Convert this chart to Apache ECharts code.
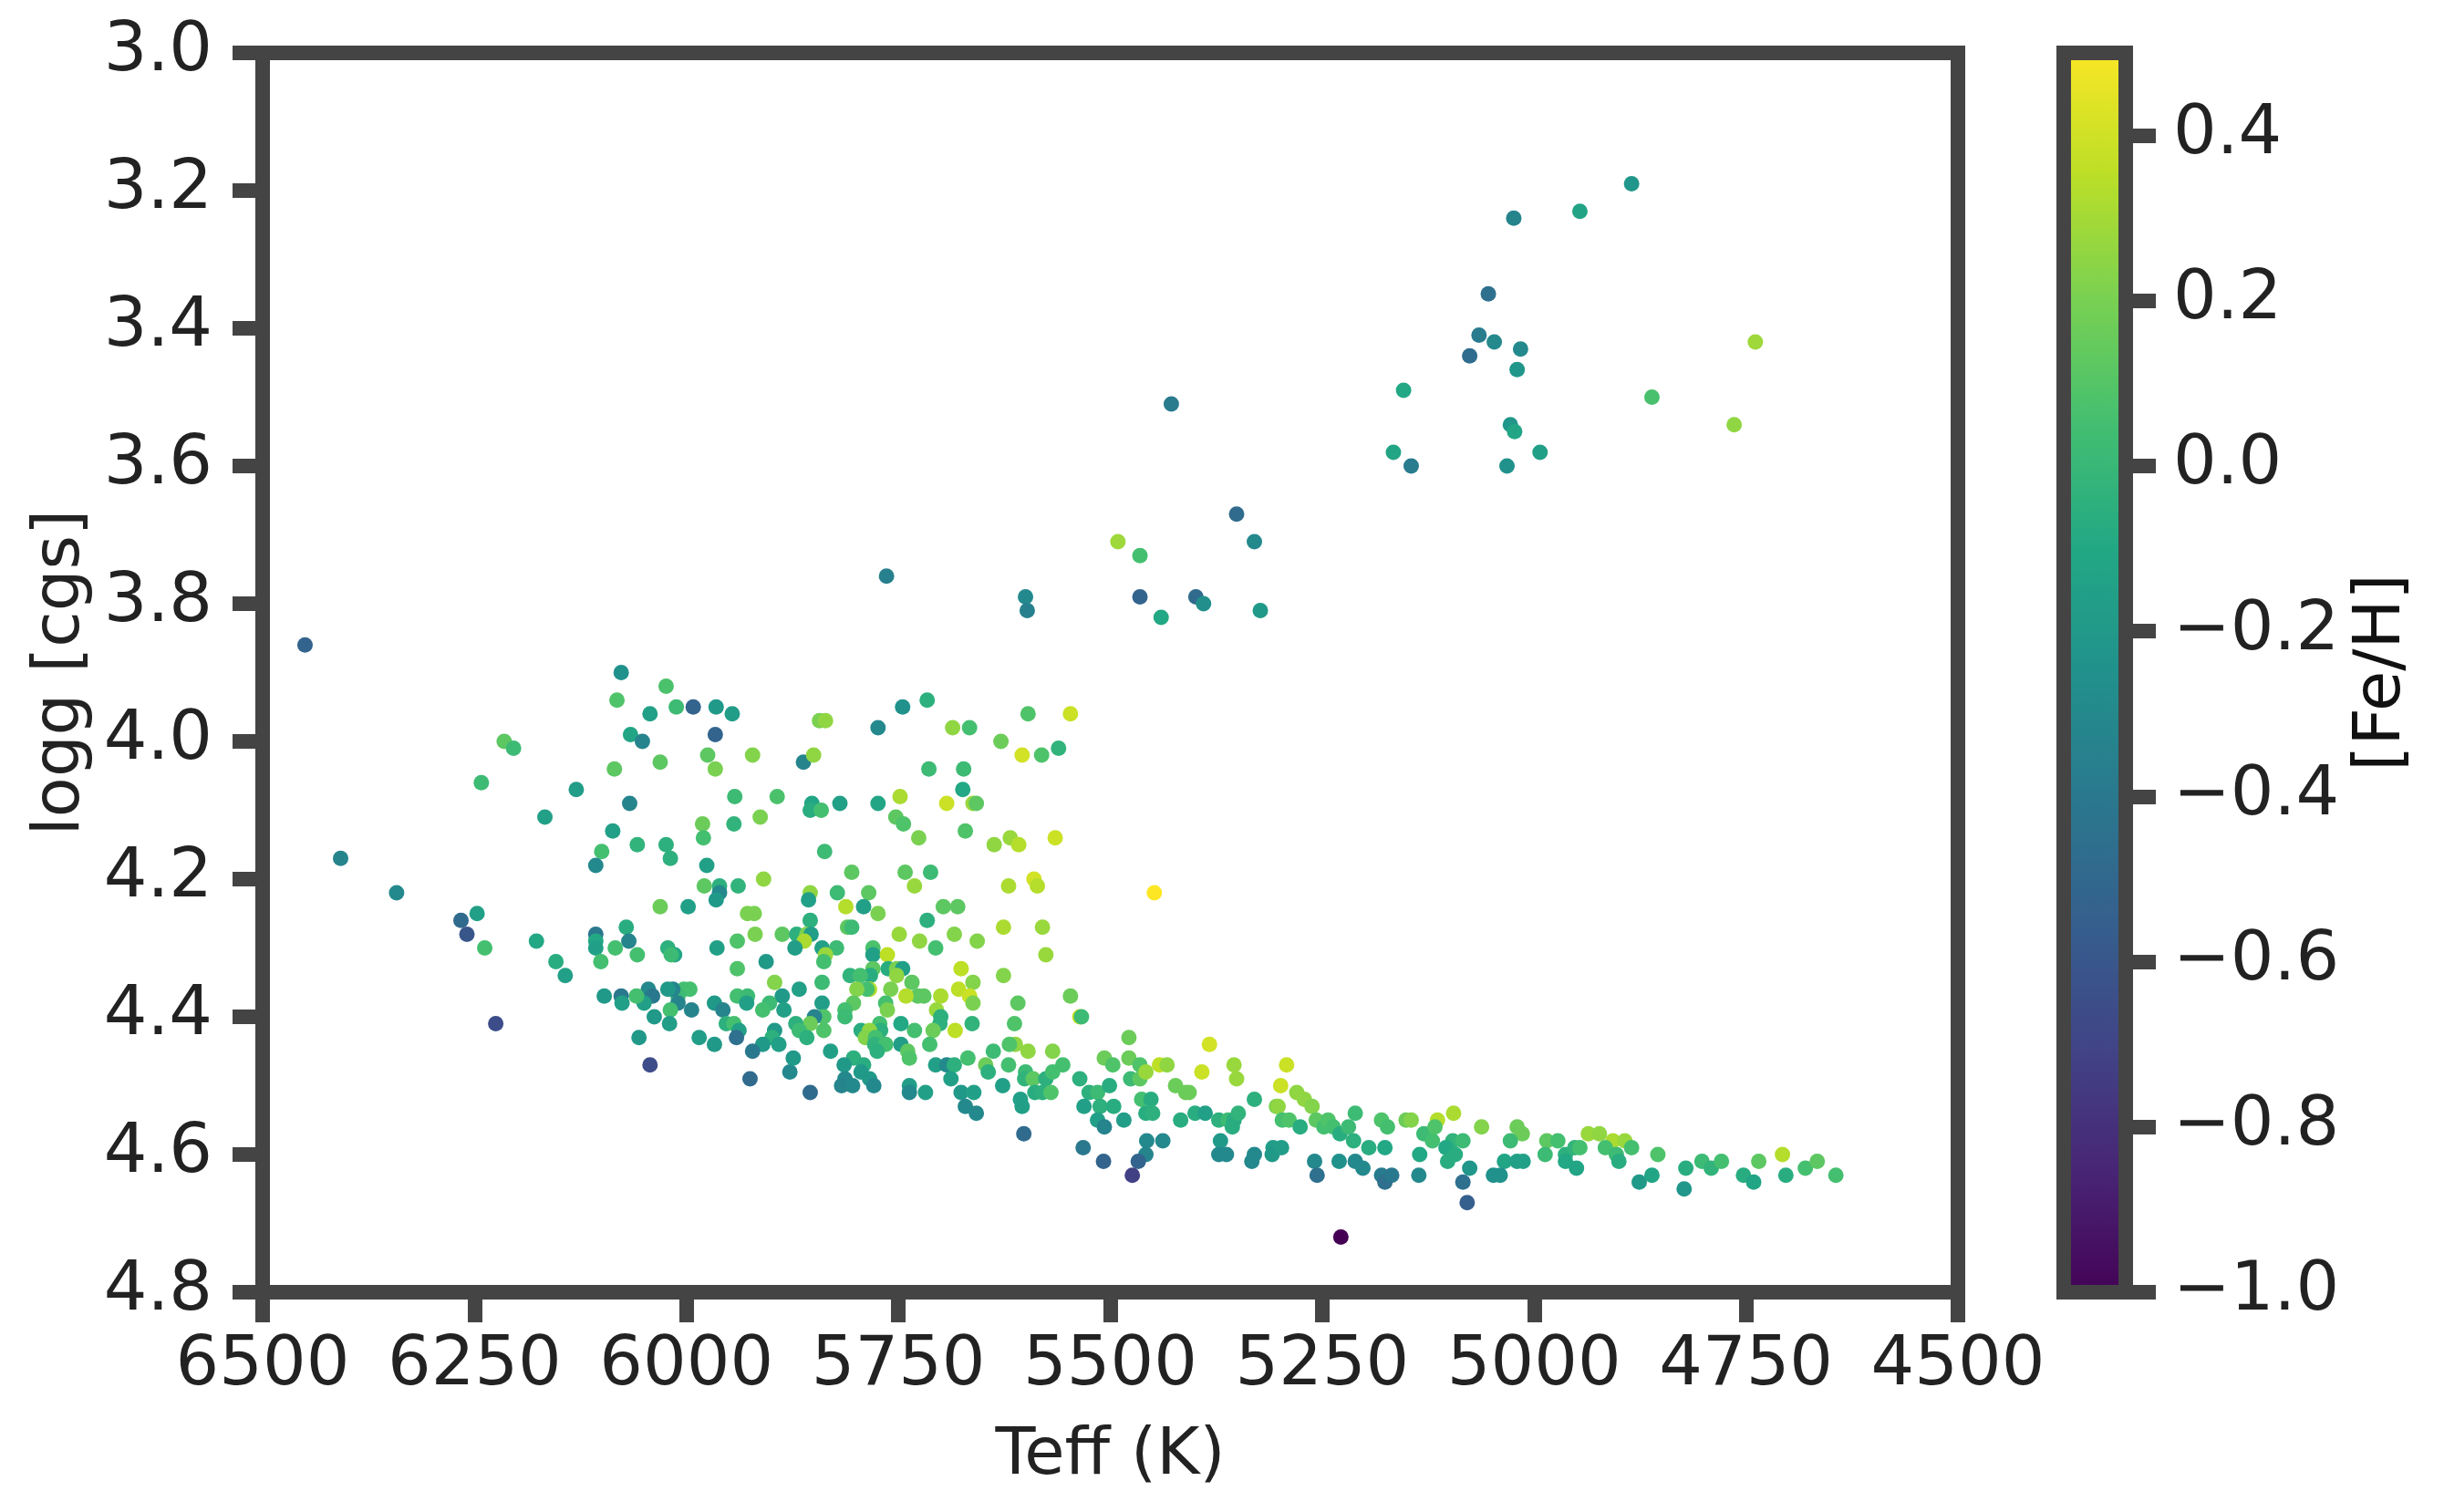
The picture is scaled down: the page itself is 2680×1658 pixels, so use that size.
<!DOCTYPE html>
<html>
<head>
<meta charset="utf-8">
<script src="https://cdn.jsdelivr.net/npm/echarts@6/dist/echarts.min.js"></script>
<style>
html, body { margin: 0; background: #fff; }
#chart { width: 2680px; height: 1658px; }
</style>
</head>
<body>
<div id="chart"></div>
<script>
// [Teff (K), logg (cgs), [Fe/H]], grouped by region
var giants = [
  [4885,3.19,-0.22],[4946,3.23,-0.13],[5024,3.24,-0.33],[5054,3.35,-0.45],[5065,3.41,-0.38],
  [5047,3.42,-0.30],[5016,3.43,-0.30],[5076,3.44,-0.47],[5020,3.46,-0.22],[4739,3.42,0.28],
  [5154,3.49,-0.10],[4861,3.50,0.06],[4764,3.54,0.25],[5028,3.54,-0.22],[5023,3.55,-0.12],
  [5166,3.58,-0.12],[4993,3.58,-0.16],[5145,3.60,-0.38],[5032,3.60,-0.25],[5428,3.51,-0.38],
  [5351,3.67,-0.48],[5330,3.71,-0.30],[5491,3.71,0.28],[5465,3.73,0.05],[5465,3.79,-0.52],
  [5399,3.79,-0.48],[5390,3.80,-0.26],[5440,3.82,-0.10],[5323,3.81,-0.20],[5764,3.76,-0.35],
  [5600,3.79,-0.30],[5598,3.81,-0.35]
];
var hotEdge = [
  [6450,3.86,-0.52],[6215,4.00,0.12],[6204,4.01,0.02],[6242,4.06,0.02],[6130,4.07,-0.17],
  [6167,4.11,-0.15],[6408,4.17,-0.33],[6342,4.22,-0.30],[6266,4.26,-0.48],[6247,4.25,-0.15],
  [6259,4.28,-0.60],[6238,4.30,0.05],[6177,4.29,-0.10],[6154,4.32,-0.07],[6143,4.34,-0.15],
  [6225,4.41,-0.65]
];
var upperBand = [
  [6077,3.90,-0.25],[6024,3.92,0.07],[6082,3.94,0.08],[6043,3.96,-0.15],[6012,3.95,0.02],
  [5992,3.95,-0.52],[5965,3.95,-0.20],[5946,3.96,-0.17],[6066,3.99,-0.12],[6052,4.00,-0.33],
  [5966,3.99,-0.52],[5975,4.02,0.12],[5966,4.04,0.20],[5922,4.02,0.22],[6031,4.03,0.12],
  [6085,4.04,0.12],[5843,3.97,0.20],[5836,3.97,0.25],[5862,4.03,-0.33],[5850,4.02,0.25],
  [5774,3.98,-0.30],[5745,3.95,-0.25],[5716,3.94,-0.05],[5686,3.98,0.25],[5666,3.98,0.05],
  [5629,4.00,0.16],[5714,4.04,0.02],[5673,4.04,0.02],[5674,4.07,-0.10],[5693,4.09,0.38],
  [5662,4.09,0.27],[5658,4.09,0.12],[5748,4.08,0.31],[5753,4.11,0.12],[5744,4.12,0.08],
  [5726,4.14,0.20],[5671,4.13,0.08],[5637,4.15,0.25],[5852,4.09,-0.12],[5854,4.10,-0.07],
  [5841,4.10,0.05],[5819,4.09,-0.15],[5774,4.09,-0.12],[5943,4.08,0.02],[5893,4.08,0.07],
  [5913,4.11,0.20],[5944,4.12,-0.03],[5981,4.12,0.16],[5980,4.14,0.05],[6067,4.09,-0.33],
  [6087,4.13,-0.15],[6100,4.16,0.05],[6107,4.18,-0.30],[6058,4.15,-0.03],[6024,4.15,-0.05],
  [6019,4.17,-0.05],[5976,4.18,-0.15],[5979,4.21,0.12],[5961,4.21,-0.05],[5961,4.22,-0.30],
  [5965,4.23,-0.20],[5939,4.21,-0.03],[5909,4.20,0.25],[6031,4.24,0.16],[5998,4.24,-0.15],
  [5837,4.16,0.02],[5805,4.19,0.12],[5742,4.19,0.12],[5712,4.19,0.02],[5731,4.21,0.27],
  [5854,4.22,0.25],[5856,4.23,-0.15],[5822,4.22,0.02],[5785,4.22,0.12],[5812,4.24,0.33],
  [5791,4.24,-0.15],[5774,4.25,0.20],[5697,4.24,0.12],[5680,4.24,0.12],[5716,4.26,-0.05],
  [5854,4.26,-0.05],[5928,4.25,0.20],[5920,4.25,0.20],[5597,3.96,0.08],[5547,3.96,0.38],
  [5604,4.02,0.40],[5581,4.02,0.08],[5561,4.01,-0.03],[5618,4.14,0.27],[5608,4.15,0.33],
  [5565,4.14,0.38],[5620,4.21,0.31],[5590,4.20,0.40],[5586,4.21,0.33],[5448,4.22,0.50]
];
var midBand = [
  [6107,4.28,-0.40],[6107,4.29,-0.10],[6107,4.30,-0.15],[6071,4.27,-0.07],[6068,4.29,-0.33],
  [6084,4.30,0.05],[6058,4.31,0.05],[6101,4.32,0.05],[6022,4.30,-0.05],[6014,4.31,-0.12],
  [6018,4.31,0.02],[5964,4.30,-0.15],[5940,4.29,0.08],[5919,4.28,0.20],[5887,4.28,0.12],
  [5870,4.28,-0.05],[5858,4.28,0.20],[5853,4.28,-0.17],[5861,4.29,0.31],[5872,4.30,-0.17],
  [5906,4.32,-0.20],[5940,4.33,0.08],[5840,4.30,-0.15],[5823,4.30,0.02],[5836,4.31,0.27],
  [5838,4.32,0.05],[5810,4.27,0.12],[5805,4.27,0.02],[5749,4.28,0.27],[5725,4.29,0.25],
  [5706,4.30,0.05],[5684,4.28,0.22],[5657,4.29,0.22],[5626,4.27,0.31],[5626,4.34,0.22],
  [5780,4.30,0.07],[5780,4.31,-0.15],[5763,4.31,0.35],[5780,4.33,0.12],[5783,4.34,-0.07],
  [5807,4.34,-0.03],[5795,4.34,0.05],[5762,4.33,-0.07],[5752,4.33,0.20],[5745,4.33,-0.15],
  [5752,4.34,0.25],[5734,4.35,0.12],[5676,4.33,0.35],[5662,4.35,0.22],[5679,4.36,0.35],
  [5666,4.37,0.38],[5662,4.38,0.20],[5700,4.37,0.31],[5705,4.39,0.27],[5700,4.40,-0.05],
  [5701,4.41,-0.05],[5709,4.42,0.16],[5683,4.42,0.35],[5663,4.41,-0.03],[5713,4.44,0.05],
  [5731,4.42,0.05],[5747,4.41,-0.10],[5727,4.37,0.12],[5720,4.37,0.12],[5741,4.37,0.33],
  [5759,4.36,0.20],[5765,4.38,0.05],[5763,4.39,0.20],[5784,4.36,0.33],[5787,4.36,0.05],
  [5799,4.36,0.22],[5803,4.38,0.12],[5813,4.39,0.05],[5813,4.40,0.02],[5772,4.41,0.05],
  [5771,4.42,-0.05],[5794,4.42,-0.07],[5784,4.42,0.25],[5789,4.43,0.22],[5777,4.43,0.05],
  [5778,4.44,-0.03],[5765,4.44,0.05],[5775,4.45,-0.05],[5747,4.44,-0.17],[5739,4.45,0.12],
  [5737,4.46,0.08],[5840,4.38,-0.17],[5840,4.35,0.02],[5838,4.40,0.08],[5849,4.40,-0.33],
  [5838,4.42,0.08],[5854,4.41,0.16],[5871,4.41,-0.05],[5867,4.42,0.02],[5858,4.43,-0.05],
  [5867,4.36,-0.15],[5887,4.37,-0.20],[5885,4.39,-0.15],[5896,4.35,0.22],[5902,4.38,0.02],
  [5910,4.39,0.05],[5896,4.42,-0.20],[5899,4.43,-0.05],[5891,4.44,-0.15],[5910,4.44,-0.20],
  [5922,4.45,-0.40],[5940,4.37,0.05],[5928,4.37,0.02],[5929,4.38,-0.15],[5967,4.38,-0.20],
  [5957,4.39,-0.33],[5953,4.41,-0.05],[5944,4.41,0.05],[5938,4.42,-0.15],[5941,4.43,-0.45],
  [5967,4.44,-0.20],[5985,4.43,-0.17],[5994,4.39,-0.33],[6003,4.36,0.05],[5996,4.36,0.05],
  [6010,4.37,0.02],[6010,4.38,-0.33],[6016,4.36,-0.33],[6022,4.36,-0.20],[6019,4.39,0.05],
  [6020,4.41,-0.17],[6038,4.40,-0.20],[6045,4.36,-0.30],[6040,4.37,-0.40],[6050,4.38,-0.15],
  [6059,4.37,0.05],[6077,4.37,-0.40],[6076,4.38,-0.15],[6097,4.37,-0.20],[6056,4.43,-0.20],
  [6043,4.47,-0.65],[5925,4.49,-0.48],[5878,4.48,-0.30],[5874,4.46,-0.20],[5854,4.51,-0.48],
  [5830,4.45,-0.15],[5803,4.46,-0.05],[5814,4.47,-0.20],[5791,4.47,-0.07],[5794,4.48,-0.20],
  [5813,4.49,-0.30],[5817,4.50,-0.33],[5804,4.50,-0.30],[5784,4.49,-0.20],[5779,4.50,-0.30],
  [5737,4.50,-0.17],[5737,4.51,-0.30],[5718,4.51,-0.15],[5706,4.47,-0.15],[5693,4.47,-0.30],
  [5684,4.47,-0.05],[5688,4.49,-0.15],[5668,4.46,0.05],[5676,4.51,-0.20],[5661,4.51,-0.15],
  [5671,4.53,-0.30],[5658,4.54,-0.30],[5647,4.47,0.16],[5644,4.48,-0.05],[5638,4.45,0.02],
  [5620,4.47,0.05],[5627,4.50,-0.15],[5612,4.44,0.25],[5619,4.44,0.08],[5613,4.41,0.08],
  [5609,4.38,0.12]
];
var lowerBand = [
  [5580,4.27,0.27],[5576,4.31,0.27],[5547,4.37,0.16],[5536,4.40,0.38],[5534,4.40,0.02],
  [5597,4.45,0.25],[5568,4.45,0.22],[5600,4.48,0.02],[5601,4.49,-0.03],[5591,4.49,0.12],
  [5576,4.49,-0.05],[5568,4.48,0.05],[5556,4.47,0.05],[5589,4.51,-0.07],[5580,4.51,-0.05],
  [5570,4.51,0.08],[5606,4.52,-0.15],[5604,4.53,-0.15],[5602,4.57,-0.48],[5536,4.49,-0.05],
  [5525,4.51,-0.05],[5515,4.51,0.02],[5501,4.50,-0.07],[5512,4.53,-0.05],[5496,4.53,-0.07],
  [5531,4.53,-0.15],[5515,4.55,-0.15],[5507,4.56,-0.33],[5484,4.55,-0.17],[5507,4.46,0.16],
  [5497,4.47,0.08],[5478,4.43,0.16],[5478,4.46,0.16],[5476,4.49,0.02],[5465,4.47,0.08],
  [5465,4.49,0.12],[5458,4.48,0.27],[5463,4.52,0.05],[5452,4.52,-0.07],[5458,4.54,-0.07],
  [5450,4.54,-0.05],[5457,4.58,-0.30],[5458,4.60,-0.33],[5467,4.61,-0.52],[5474,4.63,-0.72],
  [5438,4.58,-0.30],[5508,4.61,-0.52],[5532,4.59,-0.40],[5442,4.47,0.35],[5433,4.47,0.25],
  [5423,4.50,0.16],[5411,4.51,0.16],[5407,4.51,0.16],[5417,4.55,-0.07],[5400,4.54,-0.07],
  [5388,4.54,-0.15],[5383,4.44,0.40],[5392,4.48,0.38],[5354,4.47,0.27],[5351,4.49,0.27],
  [5372,4.55,-0.05],[5361,4.55,0.02],[5356,4.56,-0.07],[5354,4.55,-0.07],[5349,4.54,-0.03],
  [5370,4.58,-0.20],[5372,4.60,-0.30],[5363,4.60,-0.30],[5330,4.52,-0.05],[5330,4.60,-0.30],
  [5333,4.61,-0.30],[5308,4.59,-0.17],[5309,4.60,-0.20],[5298,4.59,-0.17],[5304,4.53,0.20],
  [5302,4.53,0.25],[5299,4.50,0.38],[5292,4.47,0.38],[5297,4.55,0.05],[5289,4.55,0.08],
  [5276,4.56,-0.07],[5280,4.51,0.25],[5271,4.52,0.25],[5262,4.53,0.22],[5257,4.55,0.12],
  [5248,4.56,0.05],[5243,4.55,0.08],[5237,4.56,0.05],[5229,4.57,-0.07],[5219,4.56,0.02],
  [5213,4.58,-0.05],[5211,4.54,0.02],[5259,4.61,-0.30],[5256,4.63,-0.45],[5230,4.61,-0.25],
  [5211,4.61,-0.30],[5202,4.62,-0.30],[5228,4.72,-1.00],[5195,4.59,-0.07],[5180,4.55,0.08],
  [5173,4.56,0.05],[5176,4.59,-0.10],[5180,4.63,-0.38],[5176,4.64,-0.45],[5168,4.63,-0.40],
  [5151,4.55,0.16],[5145,4.55,0.22],[5135,4.60,-0.10],[5136,4.63,-0.30],[5130,4.57,0.02],
  [5120,4.58,0.05],[5114,4.55,0.33]
];
var coolTail = [
  [5117,4.56,0.08],[5095,4.54,0.31],[5062,4.56,0.22],[5096,4.58,-0.03],[5084,4.58,0.02],
  [5104,4.59,-0.10],[5093,4.60,-0.07],[5102,4.61,-0.07],[5076,4.62,-0.22],[5084,4.64,-0.45],
  [5079,4.67,-0.55],[5020,4.56,0.16],[5014,4.57,0.16],[5028,4.58,0.02],[5035,4.61,-0.12],
  [5020,4.61,-0.15],[5013,4.61,-0.15],[5048,4.63,-0.25],[5040,4.63,-0.25],[4985,4.58,0.12],
  [4972,4.58,0.05],[4987,4.60,0.02],[4963,4.60,-0.05],[4952,4.59,-0.03],[4946,4.59,0.05],
  [4963,4.61,-0.10],[4950,4.62,-0.12],[4936,4.57,0.27],[4923,4.57,0.25],[4907,4.58,0.31],
  [4893,4.58,0.27],[4916,4.59,0.05],[4885,4.59,0.05],[4903,4.60,0.02],[4900,4.61,-0.07],
  [4854,4.60,0.08],[4876,4.64,-0.20],[4861,4.63,-0.12],[4821,4.62,-0.07],[4823,4.65,-0.22],
  [4802,4.61,0.02],[4791,4.62,-0.03],[4779,4.61,0.05],[4753,4.63,-0.07],[4741,4.64,-0.12],
  [4735,4.61,0.12],[4707,4.60,0.33],[4703,4.63,-0.07],[4680,4.62,0.05],[4666,4.61,0.12],
  [4644,4.63,0.05]
];

var fehTicks = [-1.0, -0.8, -0.6, -0.4, -0.2, 0.0, 0.2, 0.4];
var viridis = ['#440154', '#482475', '#414487', '#355f8d', '#2a788e', '#21918c',
               '#22a884', '#44bf70', '#7ad151', '#bddf26', '#fde725'];

var stars = giants.concat(hotEdge, upperBand, midBand, lowerBand, coolTail);

var spine = '#444444';
var ink = '#222222';
var font = 'DejaVu Sans';

var chart = echarts.init(document.getElementById('chart'));

var colorStops = viridis.map(function (c, i) {
  return { offset: 1 - i / (viridis.length - 1), color: c };
});

function fmtFeh(v) {
  var s = Math.abs(v).toFixed(1);
  return (v < -1e-9 ? '\u2212' : '') + s;
}

var tickStyle = { show: true, inside: false, length: 33, lineStyle: { color: spine, width: 16 } };

chart.setOption({
  animation: false,
  backgroundColor: '#ffffff',
  textStyle: { fontFamily: font },
  grid: [
    { left: 288, top: 58, width: 1859, height: 1359, show: true,
      borderWidth: 16, borderColor: spine, backgroundColor: 'transparent' },
    { left: 2263, top: 58, width: 68, height: 1359, show: true,
      borderWidth: 16, borderColor: spine,
      backgroundColor: { type: 'linear', x: 0, y: 0, x2: 0, y2: 1, colorStops: colorStops } }
  ],
  xAxis: [
    { type: 'value', gridIndex: 0, min: 4500, max: 6500, interval: 250, inverse: true,
      axisLine: { show: false, onZero: false }, splitLine: { show: false },
      axisTick: tickStyle,
      axisLabel: { margin: 44, fontSize: 75, color: ink, fontFamily: font,
        formatter: function (v) { return String(v); } },
      name: 'Teff (K)', nameLocation: 'middle', nameGap: 144,
      nameTextStyle: { fontSize: 72, color: ink, fontFamily: font } },
    { type: 'value', gridIndex: 1, min: 0, max: 1, show: false,
      axisLine: { onZero: false } }
  ],
  yAxis: [
    { type: 'value', gridIndex: 0, min: 3.0, max: 4.8, interval: 0.2, inverse: true,
      axisLine: { show: false, onZero: false }, splitLine: { show: false },
      axisTick: tickStyle,
      axisLabel: { margin: 55, fontSize: 75, color: ink, fontFamily: font,
        formatter: function (v) { return v.toFixed(1); } },
      name: 'logg [cgs]', nameLocation: 'middle', nameRotate: 90, nameGap: 185,
      nameTextStyle: { fontSize: 72, color: ink, fontFamily: font } },
    { type: 'value', gridIndex: 1, min: -1.0, max: 0.5, position: 'right',
      axisLine: { show: false, onZero: false }, splitLine: { show: false },
      axisTick: { show: true, inside: false, length: 33, customValues: fehTicks,
        lineStyle: { color: spine, width: 16 } },
      axisLabel: { margin: 52, fontSize: 75, color: ink, fontFamily: font,
        customValues: fehTicks, formatter: fmtFeh },
      name: '[Fe/H]', nameLocation: 'middle', nameRotate: 90, nameGap: 245,
      nameTextStyle: { fontSize: 72, color: '#111111', fontFamily: font } }
  ],
  visualMap: {
    type: 'continuous', show: false, min: -1.0, max: 0.5, dimension: 2,
    seriesIndex: 0, inRange: { color: viridis }
  },
  series: [{
    type: 'scatter',
    xAxisIndex: 0, yAxisIndex: 0,
    symbolSize: 17,
    data: stars,
    itemStyle: { opacity: 1 }
  }]
});
</script>
</body>
</html>
